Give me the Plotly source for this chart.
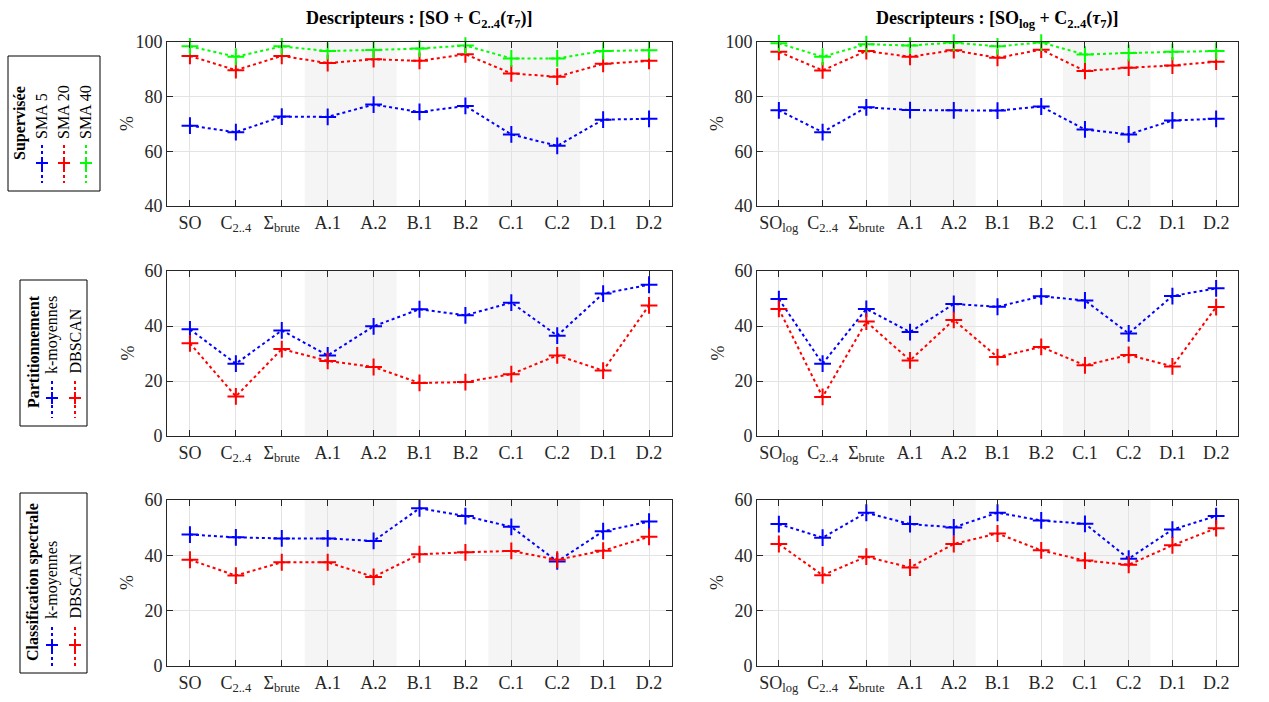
import plotly.graph_objects as go

W, H = 1269, 702

# x positions and tick labels
x_pos = list(range(1, 12))
ticks_so = ["SO", "C<sub>2..4</sub>", "Σ<sub>brute</sub>", "A.1", "A.2", "B.1", "B.2", "C.1", "C.2", "D.1", "D.2"]
ticks_solog = ["SO<sub>log</sub>", "C<sub>2..4</sub>", "Σ<sub>brute</sub>", "A.1", "A.2", "B.1", "B.2", "C.1", "C.2", "D.1", "D.2"]

# Supervisée - SO
sup_so_sma5 = [69.4, 67.0, 72.7, 72.6, 77.1, 74.4, 76.6, 66.2, 62.0, 71.6, 71.9]
sup_so_sma20 = [94.9, 89.7, 94.9, 92.3, 93.7, 93.1, 95.5, 88.5, 87.3, 92.0, 93.1]
sup_so_sma40 = [98.4, 94.6, 98.4, 96.7, 97.1, 97.6, 98.7, 94.0, 94.0, 96.7, 97.0]
# Supervisée - SO_log
sup_log_sma5 = [75.0, 67.0, 76.1, 75.1, 75.0, 74.9, 76.4, 68.0, 66.2, 71.3, 71.9]
sup_log_sma20 = [96.4, 89.6, 96.7, 94.6, 97.0, 94.2, 97.2, 89.4, 90.6, 91.4, 92.8]
sup_log_sma40 = [99.5, 94.6, 99.2, 98.7, 99.8, 98.4, 99.8, 95.4, 96.0, 96.4, 96.7]
# Partitionnement
part_so_kmeans = [38.8, 26.3, 38.4, 29.3, 39.9, 46.1, 43.9, 48.5, 36.5, 51.8, 55.0]
part_so_dbscan = [33.7, 14.4, 31.6, 27.3, 25.1, 19.3, 19.6, 22.5, 29.3, 23.8, 47.5]
part_log_kmeans = [49.8, 26.3, 46.2, 37.8, 48.0, 47.0, 50.8, 49.3, 37.3, 50.9, 53.7]
part_log_dbscan = [46.2, 14.2, 41.6, 27.5, 42.2, 28.7, 32.4, 25.7, 29.5, 25.3, 46.9]
# Classification spectrale
spec_so_kmeans = [47.5, 46.5, 46.1, 46.1, 45.2, 57.0, 54.2, 50.3, 37.8, 48.7, 52.2]
spec_so_dbscan = [38.4, 32.7, 37.5, 37.5, 32.2, 40.4, 41.1, 41.6, 38.4, 41.7, 46.7]
spec_log_kmeans = [51.3, 46.4, 55.4, 51.3, 50.1, 55.4, 52.6, 51.4, 38.8, 49.3, 54.2]
spec_log_dbscan = [44.1, 32.8, 39.5, 35.6, 44.1, 47.9, 41.8, 38.1, 36.6, 43.6, 49.8]

shaded = [(3.5, 5.5), (7.5, 9.5)]

FONT = "Liberation Serif"
AX = "#262626"
BLUE, RED, GREEN = "#0000ff", "#ff0000", "#00ff00"

cols = [(167, 672), (757, 1238)]
rows = [(42, 206), (271, 436), (500, 666)]


def px_x(x):
    return x / W


def px_y(y):
    return 1 - y / H


def note(text, x, y, size=18, angle=0, xanchor="center", yanchor="middle", color="#000000"):
    return dict(text=text, xref="paper", yref="paper", x=px_x(x), y=px_y(y), textangle=angle,
                xanchor=xanchor, yanchor=yanchor, showarrow=False,
                font=dict(family=FONT, size=size, color=color))


fig = go.Figure()

panels = [
    (0, 0, [(sup_so_sma5, BLUE), (sup_so_sma20, RED), (sup_so_sma40, GREEN)], ticks_so, [40, 100]),
    (0, 1, [(sup_log_sma5, BLUE), (sup_log_sma20, RED), (sup_log_sma40, GREEN)], ticks_solog, [40, 100]),
    (1, 0, [(part_so_kmeans, BLUE), (part_so_dbscan, RED)], ticks_so, [0, 60]),
    (1, 1, [(part_log_kmeans, BLUE), (part_log_dbscan, RED)], ticks_solog, [0, 60]),
    (2, 0, [(spec_so_kmeans, BLUE), (spec_so_dbscan, RED)], ticks_so, [0, 60]),
    (2, 1, [(spec_log_kmeans, BLUE), (spec_log_dbscan, RED)], ticks_solog, [0, 60]),
]

shapes = []
annotations = []
for i, (r, c, series, ticks, yr) in enumerate(panels):
    n = "" if i == 0 else str(i + 1)
    xa, ya = "x" + n, "y" + n
    for vals, col in series:
        fig.add_trace(go.Scatter(
            x=x_pos, y=vals, xaxis=xa, yaxis=ya, mode="lines+markers",
            line=dict(color=col, width=2, dash="dot"),
            marker=dict(symbol="cross-thin", size=12, line=dict(color=col, width=2)),
            showlegend=False, cliponaxis=False))
    for a, b in shaded:
        shapes.append(dict(type="rect", xref=xa, yref=ya + " domain", x0=a, x1=b, y0=0, y1=1,
                           fillcolor="#f5f5f5", line=dict(width=0), layer="below"))
    x0, x1 = cols[c]
    y0, y1 = rows[r]
    axis_common = dict(showline=True, linecolor=AX, linewidth=1, mirror="ticks", ticks="inside",
                       tickcolor=AX, ticklen=6, showgrid=True, gridcolor="#e3e3e3", gridwidth=1,
                       zeroline=False, automargin=False, tickfont=dict(family=FONT, size=18, color=AX))
    fig.layout["xaxis" + n] = dict(domain=[px_x(x0), px_x(x1)], anchor=ya, range=[0.5, 11.5],
                                   tickvals=x_pos, ticktext=ticks, **axis_common)
    fig.layout["yaxis" + n] = dict(domain=[px_y(y1), px_y(y0)], anchor=xa, range=yr,
                                   tickvals=list(range(yr[0], yr[1] + 1, 20)), **axis_common)
    annotations.append(note("%", x0 - 40, (y0 + y1) / 2, size=18, angle=-90, color=AX))

titles = ["<b>Descripteurs : [SO + C<sub>2..4</sub>(<i>τ</i><sub>7</sub>)]</b>",
          "<b>Descripteurs : [SO<sub>log</sub> + C<sub>2..4</sub>(<i>τ</i><sub>7</sub>)]</b>"]
for (x0, x1), t in zip(cols, titles):
    annotations.append(note(t, (x0 + x1) / 2, 20, size=18))

# rotated legend boxes
legends = [
    (8, 100, 56, 191, "Supervisée", 20, 123,
     [("SMA 5", BLUE, 42), ("SMA 20", RED, 64), ("SMA 40", GREEN, 86)], 141, 163, 145, 183),
    (20, 87, 280, 426, "Partitionnement", 33, 352,
     [("k-moyennes", BLUE, 52), ("DBSCAN", RED, 75)], 376, 398, 381, 418),
    (20, 87, 493, 673, "Classification spectrale", 33, 582,
     [("k-moyennes", BLUE, 52), ("DBSCAN", RED, 75)], 621, 645, 627, 666),
]
for bx0, bx1, by0, by1, title, tx, ty, entries, text_bottom, sym_y, ly0, ly1 in legends:
    shapes.append(dict(type="rect", xref="paper", yref="paper", x0=px_x(bx0), x1=px_x(bx1),
                       y0=px_y(by1), y1=px_y(by0), line=dict(color="#000000", width=1),
                       fillcolor="white"))
    annotations.append(note("<b>" + title + "</b>", tx, ty, size=16, angle=-90))
    for label, col, ex in entries:
        annotations.append(note(label, ex, text_bottom, size=16, angle=-90, yanchor="bottom"))
        shapes.append(dict(type="line", xref="paper", yref="paper", x0=px_x(ex), x1=px_x(ex),
                           y0=px_y(ly0), y1=px_y(ly1), line=dict(color=col, width=2, dash="dot")))
        shapes.append(dict(type="line", xref="paper", yref="paper", x0=px_x(ex - 6), x1=px_x(ex + 6),
                           y0=px_y(sym_y), y1=px_y(sym_y), line=dict(color=col, width=2)))
        shapes.append(dict(type="line", xref="paper", yref="paper", x0=px_x(ex), x1=px_x(ex),
                           y0=px_y(sym_y - 6), y1=px_y(sym_y + 6), line=dict(color=col, width=2)))

fig.update_layout(
    width=W, height=H,
    margin=dict(l=0, r=0, t=0, b=0, pad=0, autoexpand=False),
    paper_bgcolor="white", plot_bgcolor="white",
    font=dict(family=FONT, color=AX),
    shapes=shapes, annotations=annotations,
    showlegend=False,
)

fig.write_html("out.html", config={"displayModeBar": False},
               post_script="document.body.style.margin='0';")
